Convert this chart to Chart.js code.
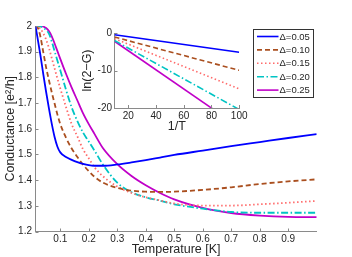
<!DOCTYPE html>
<html>
<head>
<meta charset="utf-8">
<script src="https://cdn.jsdelivr.net/npm/chart.js@4.4.1/dist/chart.umd.min.js"></script>
<style>
html,body{margin:0;padding:0;background:#fff;}
#wrap{position:relative;width:352px;height:257px;}
#main{position:absolute;left:0;top:0;}
#inset{position:absolute;left:80px;top:22px;}
</style>
</head>
<body>
<div id="wrap">
<canvas id="main" width="352" height="257"></canvas>
<canvas id="inset" width="170" height="112"></canvas>
</div>
<script>
// ---- data ----
const T = [0.013,0.02,0.03,0.04,0.05,0.06,0.07,0.08,0.09,0.1,0.12,0.14,0.16,0.18,0.2,0.22,0.25,0.3,0.35,0.4,0.45,0.5,0.6,0.7,0.8,0.9,1.0];
const G005 = [2.0,1.955,1.888,1.815,1.745,1.68,1.62,1.568,1.53,1.508,1.49,1.479,1.47,1.463,1.458,1.456,1.456,1.461,1.469,1.478,1.488,1.498,1.515,1.532,1.548,1.564,1.579];
const G010 = [2.0,1.995,1.96,1.9,1.84,1.79,1.742,1.698,1.655,1.618,1.565,1.523,1.49,1.46,1.435,1.413,1.39,1.37,1.359,1.355,1.354,1.355,1.362,1.372,1.385,1.395,1.403];
const G015 = [2.0,1.998,1.99,1.972,1.948,1.915,1.875,1.835,1.795,1.757,1.685,1.618,1.57,1.52,1.485,1.45,1.415,1.375,1.35,1.333,1.321,1.309,1.301,1.301,1.306,1.312,1.319];
const G020 = [2.0,2.0,1.998,1.993,1.985,1.97,1.94,1.902,1.865,1.828,1.752,1.683,1.63,1.585,1.55,1.515,1.46,1.39,1.353,1.333,1.32,1.306,1.289,1.276,1.273,1.273,1.273];
const G025 = [2.0,2.0,2.0,1.998,1.992,1.98,1.96,1.932,1.902,1.872,1.814,1.76,1.71,1.66,1.618,1.58,1.524,1.462,1.416,1.38,1.35,1.325,1.292,1.272,1.262,1.257,1.256];
const seriesLabels = ['\u0394=0.05','\u0394=0.10','\u0394=0.15','\u0394=0.20','\u0394=0.25'];

const xTicks = [0.1,0.2,0.3,0.4,0.5,0.6,0.7,0.8,0.9];
const xTickLabels = ['0.1','0.2','0.3','0.4','0.5','0.6','0.7','0.8','0.9'];
const yTicks = [1.2,1.3,1.4,1.5,1.6,1.7,1.8,1.9,2.0];
const yTickLabels = ['1.2','1.3','1.4','1.5','1.6','1.7','1.8','1.9','2'];

// inset: ln(2-G) vs 1/T
const invT = [10,100];
const L005 = [-0.45,-5.15];
const L010 = [-1.07,-9.95];
const L015 = [-1.5,-14.9];
const L020 = [-2.0,-20.4];
const L025 = [-2.2,-25.1];
const ixTicks = [20,40,60,80,100];
const ixTickLabels = ['20','40','60','80','100'];
const iyTicks = [-20,-10,0];
const iyTickLabels = ['-20','-10','0'];

// ---- styles ----
const FONT = 'Liberation Sans, Arial, Helvetica, sans-serif';
const styles = [
  {color:'#0000ff', dash:[]},
  {color:'#aa4f1f', dash:[5,3]},
  {color:'#ff6b6b', dash:[1.5,2.5]},
  {color:'#00c4c4', dash:[7,2.5,1.5,2.5]},
  {color:'#c000c8', dash:[]}
];
const AXIS = '#8a8a8a';
const TXT = '#262626';

function pts(xs, ys){ return xs.map((x,i)=>({x:x,y:ys[i]})); }

function makeSets(xs, arrs, lw, smooth){
  return arrs.map((a,i)=>({
    label: seriesLabels[i],
    data: pts(xs,a),
    borderColor: styles[i].color,
    borderDash: styles[i].dash,
    borderWidth: lw,
    pointRadius: 0,
    fill:false,
    cubicInterpolationMode: smooth ? 'monotone' : 'default',
    tension: 0,
    borderCapStyle:'butt'
  }));
}

const innerTicks = {
  id:'innerTicks',
  afterDraw(chart){
    const ctx = chart.ctx, a = chart.chartArea;
    ctx.save();
    ctx.strokeStyle = AXIS; ctx.lineWidth = 1; ctx.setLineDash([]);
    const sx = chart.scales.x, sy = chart.scales.y;
    sx.ticks.forEach(t=>{
      const p = Math.round(sx.getPixelForValue(t.value))+0.5;
      ctx.beginPath(); ctx.moveTo(p,a.bottom); ctx.lineTo(p,a.bottom-3); ctx.stroke();
    });
    sy.ticks.forEach(t=>{
      const p = Math.round(sy.getPixelForValue(t.value))+0.5;
      ctx.beginPath(); ctx.moveTo(a.left,p); ctx.lineTo(a.left+3,p); ctx.stroke();
    });
    ctx.restore();
  }
};

const legendBox = {
  id:'legendBox',
  afterDraw(chart){
    const ctx = chart.ctx;
    const x0 = 253.5, y0 = 29.5, w = 60, h = 68;
    ctx.save();
    ctx.fillStyle = '#fff'; ctx.fillRect(x0,y0,w,h);
    ctx.strokeStyle = '#333'; ctx.lineWidth = 1; ctx.setLineDash([]);
    ctx.strokeRect(x0,y0,w,h);
    ctx.font = '9.5px ' + FONT;
    ctx.textBaseline = 'middle'; ctx.textAlign = 'left';
    chart.data.datasets.forEach((ds,i)=>{
      const yy = 36.5 + i*13.4;
      ctx.strokeStyle = ds.borderColor; ctx.lineWidth = 1.6;
      ctx.setLineDash(ds.borderDash); ctx.lineCap='butt';
      ctx.beginPath(); ctx.moveTo(257,yy); ctx.lineTo(278.5,yy); ctx.stroke();
      ctx.setLineDash([]);
      ctx.fillStyle = TXT;
      ctx.fillText(ds.label, 279.5, yy+0.5);
    });
    ctx.restore();
  }
};

function axisCommon(extra){
  return Object.assign({
    type:'linear',
    grid:{display:true, drawOnChartArea:false, drawTicks:false},
    border:{display:true, color:AXIS, width:1}
  }, extra);
}

new Chart(document.getElementById('main'), {
  type:'line',
  data:{ datasets: makeSets(T, [G005,G010,G015,G020,G025], 1.8, true) },
  options:{
    responsive:false, animation:false, devicePixelRatio:1,
    layout:{padding:{left:0,right:35.3,top:26,bottom:0}},
    plugins:{legend:{display:false}, tooltip:{enabled:false}},
    scales:{
      x: axisCommon({
        min:0.013, max:1.0,
        afterBuildTicks(s){ s.ticks = xTicks.map(v=>({value:v})); },
        afterFit(s){ s.height = 25.5; },
        ticks:{ padding:2, color:TXT, font:{family:FONT,size:10}, maxRotation:0, autoSkip:false,
          callback:(v,i)=>xTickLabels[i] },
        title:{display:true, text:'Temperature [K]', color:TXT, font:{family:FONT,size:12.5}, padding:{top:0,bottom:0}}
      }),
      y: axisCommon({
        min:1.2, max:2.0,
        afterBuildTicks(s){ s.ticks = yTicks.map(v=>({value:v})); },
        afterFit(s){ s.width = 35.5; },
        ticks:{ padding:3.5, color:TXT, font:{family:FONT,size:10}, autoSkip:false,
          callback:(v,i)=>yTickLabels[i] },
        title:{display:true, text:'Conductance [e\u00b2/h]', color:TXT, font:{family:FONT,size:12.5}, padding:{top:3.5,bottom:0}}
      })
    }
  },
  plugins:[innerTicks, legendBox]
});

new Chart(document.getElementById('inset'), {
  type:'line',
  data:{ datasets: makeSets(invT, [L005,L010,L015,L020,L025], 1.6, false) },
  options:{
    responsive:false, animation:false, devicePixelRatio:1,
    layout:{padding:{left:0,right:10.5,top:11,bottom:0}},
    plugins:{legend:{display:false}, tooltip:{enabled:false}},
    scales:{
      x: axisCommon({
        min:10, max:100,
        afterBuildTicks(s){ s.ticks = ixTicks.map(v=>({value:v})); },
        afterFit(s){ s.height = 26; },
        ticks:{ padding:2.5, color:TXT, font:{family:FONT,size:10}, maxRotation:0, autoSkip:false,
          callback:(v,i)=>ixTickLabels[i] },
        title:{display:true, text:'1/T', color:TXT, font:{family:FONT,size:12.5}, padding:{top:0,bottom:0}}
      }),
      y: axisCommon({
        min:-20, max:0,
        afterBuildTicks(s){ s.ticks = iyTicks.map(v=>({value:v})); },
        afterFit(s){ s.width = 34.5; },
        ticks:{ padding:2.5, color:TXT, font:{family:FONT,size:10}, autoSkip:false,
          callback:(v,i)=>iyTickLabels[i] },
        title:{display:true, text:'ln(2\u2212G)', color:TXT, font:{family:FONT,size:12.5}, padding:{top:0.5,bottom:0}}
      })
    }
  },
  plugins:[innerTicks]
});
</script>
</body>
</html>
